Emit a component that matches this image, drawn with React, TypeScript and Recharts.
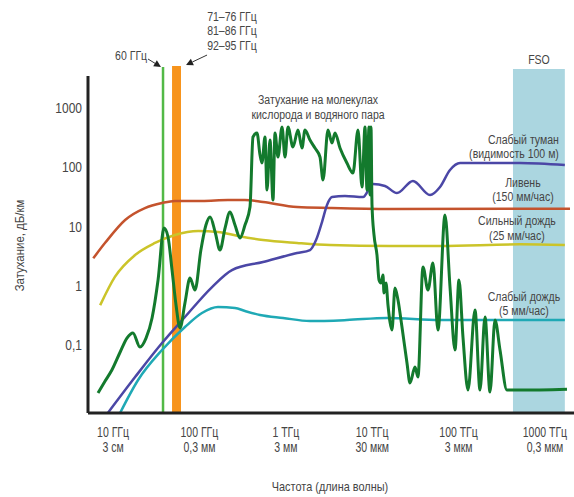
import React from "react";
import { LineChart, Line, XAxis, YAxis, ReferenceArea, ReferenceLine, ReferenceDot } from "recharts";

const FONT = '"Liberation Sans", Arial, sans-serif';
const TEXT = "#454545";
const AXIS = "#222";

// частота, ГГц -> затухание, дБ/км
const downpour: [number, number][] = [
  [5.9, 2.9], [8.1, 5.3], [13.8, 12.9], [23.4, 20.5], [36.9, 24.9], [52, 27], [107, 27],
  [214, 28], [337, 28], [545, 25.9], [1350, 21.3], [3250, 20.5], [16000, 19.7], [1.95e6, 20],
];

const heavyRain: [number, number][] = [
  [7.1, 0.47], [10.5, 1.41], [18, 3.3], [30.6, 5.27], [52, 7.2], [97, 8.4], [164, 8.1],
  [281, 6.9], [545, 5.9], [1350, 5.27], [3250, 4.87], [16000, 4.7], [61000, 4.7],
  [514000, 5.0], [1.7e6, 4.87],
];

const lightFog: [number, number][] = [
  [8.75, 0.0072], [18, 0.0288], [36.9, 0.108], [68, 0.297], [140, 0.95], [238, 1.84],
  [545, 2.52], [1350, 3.57], [1905, 4.01], [2240, 5.9], [2625, 11.9], [3000, 23.1],
  [3425, 31.4], [4845, 32.7], [7830, 31.4], [10200, 52], [14070, 48.3], [19360, 36.7],
  [29660, 58.6], [46720, 34], [61000, 46.5], [79600, 90], [104000, 118], [514000, 118],
  [1.7e6, 109],
];

const lightRain: [number, number][] = [
  [12.1, 0.0072], [19.5, 0.0257], [36.9, 0.0824], [68, 0.201], [107, 0.347], [164, 0.438],
  [258, 0.422], [337, 0.375], [503, 0.321], [929, 0.286], [1905, 0.254], [5100, 0.264],
  [14800, 0.286], [61000, 0.264], [514000, 0.264], [1.7e6, 0.264],
];

const molecular: [number, number][] = [
  [6.7, 0.0155], [8.1, 0.0247], [9.7, 0.0379], [12.1, 0.0762], [14.5, 0.131], [17, 0.16],
  [20.5, 0.0925], [24.1, 0.131], [28.3, 0.286], [33.2, 1.25], [38.9, 9.4], [43.3, 6.65],
  [48.2, 1.84], [53.6, 0.473], [59.6, 0.194], [68, 0.512], [77.8, 1.35], [88.9, 0.848],
  [104, 4.01], [119, 10.6], [133, 14.5], [152, 8.07], [173, 4.01], [198, 9.4], [226, 17.6],
  [258, 10.6], [295, 6.4], [337, 10.6], [385, 21.3], [417, 324], [464, 379], [503, 161],
  [530, 118], [574, 324], [606, 41.3], [656, 288], [711, 28], [750, 379], [812, 149],
  [904, 478], [979, 149], [1060, 478], [1211, 220], [1384, 425], [1540, 211], [1668, 425],
  [1905, 288], [2177, 211], [2488, 149], [2697, 60.9], [3080, 425], [3425, 256], [3711, 379],
  [4240, 211], [5100, 118], [5995, 80], [6855, 425], [7625, 46.5], [8258, 478], [8710, 41.3],
  [9185, 478], [9435, 34], [9690, 478], [9955, 23.1], [10500, 7.19], [11370, 3.3],
  [12000, 1.25], [12650, 1.11], [13340, 1.52], [13700, 0.755], [14450, 1.11], [15240, 0.473],
  [16080, 0.244], [16960, 0.179], [18370, 0.916], [19900, 0.575], [22130, 0.201],
  [25290, 0.0497], [27410, 0.0229], [31320, 0.0426], [33880, 0.0288], [38730, 2.07],
  [44260, 0.848], [50560, 2.42], [57770, 0.179], [69690, 15.6], [79630, 0.95],
  [90980, 0.0824], [101100, 1.25], [112500, 0.136], [128600, 0.0174], [155000, 0.39],
  [177100, 0.0174], [202400, 0.297], [231300, 0.0161], [264200, 0.264], [301900, 0.0824],
  [363000, 0.0174], [514500, 0.0174], [1.8e6, 0.018],
];

const freqTicks = [10, 100, 1000, 1e4, 1e5, 1e6];
const freqLabels = ["10 ГГц", "100 ГГц", "1 ТГц", "10 ТГц", "100 ТГц", "1000 ТГц"];
const waveLabels = ["3 см", "0,3 мм", "3 мм", "30 мкм", "3 мкм", "0,3 мкм"];
const attTicks = [0.1, 1, 10, 100, 1000];

const X_DOMAIN = [5.13, 2.17e6];
const Y_DOMAIN = [0.00712, 5115];

// полосы частот
const band60 = 37.9;
const bandE = [48.2, 61.2];
const bandFSO = [426600, 1.7e6];

const notes = [
  { f: 24.8, a: 6457, lines: ["60 ГГц"], anchor: "end" },
  { f: 238, a: 29400, lines: ["71–76 ГГц", "81–86 ГГц", "92–95 ГГц"], anchor: "middle" },
  { f: 853000, a: 5540, lines: ["FSO"], anchor: "middle" },
  { f: 2360, a: 1168, lines: ["Затухание на молекулах", "кислорода и водяного пара"], anchor: "middle" },
  { f: 1.45e6, a: 247, lines: ["Слабый туман", "(видимость 100 м)"], anchor: "end" },
  { f: 556000, a: 46.5, lines: ["Ливень", "(150 мм/час)"], anchor: "middle" },
  { f: 474000, a: 10.6, lines: ["Сильный дождь", "(25 мм/час)"], anchor: "middle" },
  { f: 571000, a: 0.553, lines: ["Слабый дождь", "(5 мм/час)"], anchor: "middle" },
];

const arrows = [
  { from: { x: 25.4, y: 6714 }, to: { x: 35.9, y: 4920 } },
  { from: { x: 122.5, y: 7830 }, to: { x: 70, y: 5320 } },
];

const rows = (pts: [number, number][]) => pts.map(([f, a]) => ({ f, a }));

// узкий шрифт: сжимаем Liberation Sans по горизонтали
function SqText({ x, y, anchor = "middle", size = 13, sx = 0.79, rotate = 0, children }: any) {
  return (
    <text
      transform={`translate(${x},${y}) rotate(${rotate}) scale(${sx},1)`}
      textAnchor={anchor}
      fontSize={size}
      fontFamily={FONT}
      fill={TEXT}
    >
      {children}
    </text>
  );
}

function FreqTick(props: any) {
  const { x, y, payload } = props;
  const i = freqTicks.findIndex((t) => Math.abs(Math.log10(t) - Math.log10(payload.value)) < 0.01);
  if (i < 0) return null;
  return (
    <g>
      <SqText x={x} y={y + 24} size={14} sx={0.75}>{freqLabels[i]}</SqText>
      <SqText x={x} y={y + 39} size={14} sx={0.75}>{waveLabels[i]}</SqText>
    </g>
  );
}

function AttTick(props: any) {
  const { x, y, payload } = props;
  return (
    <SqText x={x} y={y + 5} anchor="end" size={15} sx={0.8}>
      {String(payload.value).replace(".", ",")}
    </SqText>
  );
}

function Arrow(props: any) {
  const { x1, y1, x2, y2 } = props;
  const ang = Math.atan2(y2 - y1, x2 - x1);
  const len = 7;
  const w = 3.5;
  const bx = x2 - len * Math.cos(ang);
  const by = y2 - len * Math.sin(ang);
  const px = -Math.sin(ang) * w;
  const py = Math.cos(ang) * w;
  return (
    <g>
      <line x1={x1} y1={y1} x2={bx} y2={by} stroke="#333" strokeWidth={1} />
      <polygon points={`${x2},${y2} ${bx + px},${by + py} ${bx - px},${by - py}`} fill="#222" />
    </g>
  );
}

function noteShape(lines: string[], anchor: string) {
  return (p: any) => (
    <g>
      {lines.map((l, k) => (
        <SqText key={k} x={p.cx} y={p.cy + k * 14.5} anchor={anchor} size={13.5} sx={0.78}>{l}</SqText>
      ))}
    </g>
  );
}

export default function App() {
  return (
    <div style={{ position: "absolute", left: 0, top: 0, width: 574, height: 497, background: "#fff" }}>
      <LineChart width={574} height={497} margin={{ top: 66, right: 0, bottom: 0, left: 0 }}>
        <XAxis
          dataKey="f"
          type="number"
          scale="log"
          domain={X_DOMAIN}
          allowDataOverflow
          ticks={freqTicks}
          interval={0}
          tick={<FreqTick />}
          tickLine={false}
          tickSize={0}
          tickMargin={0}
          height={84}
          axisLine={{ stroke: AXIS, strokeWidth: 3 }}
          label={{
            content: (p: any) => (
              <SqText x={p.viewBox.x + p.viewBox.width / 2 - 1} y={p.viewBox.y + p.viewBox.height - 6} size={13} sx={0.84}>
                Частота (длина волны)
              </SqText>
            ),
          }}
        />
        <YAxis
          dataKey="a"
          type="number"
          scale="log"
          domain={Y_DOMAIN}
          allowDataOverflow
          ticks={attTicks}
          interval={0}
          tick={<AttTick />}
          tickLine={false}
          tickSize={0}
          tickMargin={6}
          axisLine={false}
          width={88}
          label={{
            content: (p: any) => (
              <SqText x={24} y={p.viewBox.y + p.viewBox.height / 2 + 6} rotate={-90} size={13} sx={0.88}>
                Затухание, дБ/км
              </SqText>
            ),
          }}
        />

        <ReferenceArea
          x1={bandFSO[0]}
          x2={bandFSO[1]}
          y1={Y_DOMAIN[0]}
          y2={4550}
          fill="#abd6e0"
          fillOpacity={1}
          stroke="none"
          ifOverflow="visible"
        />
        <ReferenceArea
          x1={bandE[0]}
          x2={bandE[1]}
          y1={Y_DOMAIN[0]}
          y2={Y_DOMAIN[1]}
          fill="#f7941d"
          fillOpacity={1}
          stroke="none"
          ifOverflow="visible"
        />
        <ReferenceLine
          segment={[{ x: band60, y: 4920 }, { x: band60, y: Y_DOMAIN[0] }]}
          stroke="#52b947"
          strokeWidth={2.5}
          ifOverflow="visible"
        />
        <ReferenceLine
          segment={[{ x: X_DOMAIN[0], y: 3467 }, { x: X_DOMAIN[0], y: Y_DOMAIN[0] }]}
          stroke={AXIS}
          strokeWidth={3}
          ifOverflow="visible"
        />

        <Line data={rows(downpour)} dataKey="a" type="monotone" stroke="#c4532d" strokeWidth={2.5} dot={false} isAnimationActive={false} />
        <Line data={rows(heavyRain)} dataKey="a" type="monotone" stroke="#cbc429" strokeWidth={2.5} dot={false} isAnimationActive={false} />
        <Line data={rows(lightRain)} dataKey="a" type="monotone" stroke="#1fa9b5" strokeWidth={2.5} dot={false} isAnimationActive={false} />
        <Line data={rows(lightFog)} dataKey="a" type="monotone" stroke="#4b47a6" strokeWidth={2.5} dot={false} isAnimationActive={false} />
        <Line data={rows(molecular)} dataKey="a" type="monotone" stroke="#137a2d" strokeWidth={3} dot={false} isAnimationActive={false} />

        {arrows.map((ar, k) => (
          <ReferenceLine key={`ar${k}`} segment={[ar.from, ar.to]} ifOverflow="visible" shape={(p: any) => <Arrow {...p} />} />
        ))}
        {notes.map((n, k) => (
          <ReferenceDot key={`n${k}`} x={n.f} y={n.a} r={0} ifOverflow="visible" shape={noteShape(n.lines, n.anchor)} />
        ))}
      </LineChart>
    </div>
  );
}
